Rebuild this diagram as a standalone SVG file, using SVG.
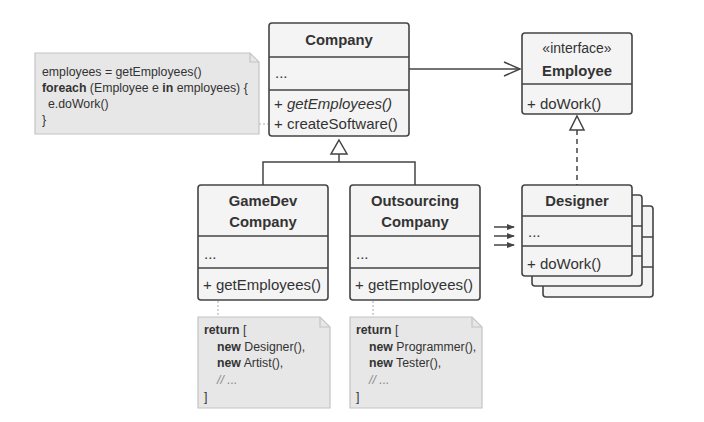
<svg xmlns="http://www.w3.org/2000/svg" width="704" height="422" viewBox="0 0 704 422">
<style>
text{font-family:"Liberation Sans",Arial,sans-serif;fill:#333}
.box{fill:#f4f4f4;stroke:#444;stroke-width:1.6}
.sep{stroke:#444;stroke-width:1.6;fill:none}
.t{font-size:14.8px;font-weight:bold;text-anchor:middle}
.m{font-size:15px}
.st{font-size:14px;text-anchor:middle}
.note{fill:#e7e7e7;stroke:#c4c4c4;stroke-width:1.2}
.n{font-size:12.3px}
.b{font-weight:bold}
.c{font-style:italic;fill:#888}
.line{stroke:#444;stroke-width:1.5;fill:none}
.dot{stroke:#aaa;stroke-width:1;fill:none;stroke-dasharray:2,2}
</style>
<defs>
<marker id="sm" markerWidth="8" markerHeight="6" refX="7" refY="3" orient="auto" markerUnits="userSpaceOnUse">
<path d="M0,0 L8,3 L0,6 z" fill="#444"/>
</marker>
</defs>

<g id="connectors">
<line class="line" x1="409" y1="69" x2="520" y2="69"/>
<polyline class="line" points="504,62 520,69 504,76"/>
<polygon points="577,116 584,130 570,130" fill="#fff" stroke="#444" stroke-width="1.5"/>
<line class="line" x1="577" y1="130" x2="577" y2="185" stroke-dasharray="5,4"/>
<polygon points="339,140 347,154 331,154" fill="#fff" stroke="#444" stroke-width="1.5"/>
<polyline class="line" points="339,154 339,162"/>
<polyline class="line" points="263,185 263,162 415,162 415,185"/>
<line class="line" x1="494" y1="227" x2="514" y2="227" stroke-width="1.3" marker-end="url(#sm)"/>
<line class="line" x1="494" y1="236" x2="514" y2="236" stroke-width="1.3" marker-end="url(#sm)"/>
<line class="line" x1="494" y1="245" x2="514" y2="245" stroke-width="1.3" marker-end="url(#sm)"/>
<line class="dot" x1="259" y1="124" x2="268" y2="124"/>
<line class="dot" x1="218" y1="301" x2="218" y2="317"/>
<line class="dot" x1="373" y1="301" x2="373" y2="317"/>
</g>

<g id="note-main">
<path class="note" d="M35,53 H250 L259,62 V134 H35 Z"/>
<path d="M250,53 V62 H259" fill="none" stroke="#c4c4c4" stroke-width="1.2"/>
<text class="n" x="42" y="76">employees = getEmployees()</text>
<text class="n" x="42" y="92"><tspan class="b">foreach</tspan> (Employee e <tspan class="b">in</tspan> employees) {</text>
<text class="n" x="48" y="108">e.doWork()</text>
<text class="n" x="42" y="124">}</text>
</g>

<g id="company">
<rect class="box" x="269" y="23" width="140" height="113" rx="3"/>
<line class="sep" x1="269" y1="57" x2="409" y2="57"/>
<line class="sep" x1="269" y1="90" x2="409" y2="90"/>
<text class="t" x="339" y="45">Company</text>
<text class="m" x="275" y="78">...</text>
<text class="m" x="274" y="109">+ <tspan font-style="italic">getEmployees()</tspan></text>
<text class="m" x="274" y="129">+ createSoftware()</text>
</g>

<g id="employee">
<rect class="box" x="522" y="33" width="110" height="81" rx="3"/>
<line class="sep" x1="522" y1="84" x2="632" y2="84"/>
<text class="st" x="577" y="53">«interface»</text>
<text class="t" x="577" y="76">Employee</text>
<text class="m" x="527" y="109">+ doWork()</text>
</g>

<g id="gamedev">
<rect class="box" x="198" y="185" width="130" height="115" rx="3"/>
<line class="sep" x1="198" y1="236" x2="328" y2="236"/>
<line class="sep" x1="198" y1="268" x2="328" y2="268"/>
<text class="t" x="263" y="206">GameDev</text>
<text class="t" x="263" y="227">Company</text>
<text class="m" x="204" y="259">...</text>
<text class="m" x="203" y="290">+ getEmployees()</text>
</g>

<g id="outsourcing">
<rect class="box" x="350" y="185" width="130" height="115" rx="3"/>
<line class="sep" x1="350" y1="236" x2="480" y2="236"/>
<line class="sep" x1="350" y1="268" x2="480" y2="268"/>
<text class="t" x="415" y="206">Outsourcing</text>
<text class="t" x="415" y="227">Company</text>
<text class="m" x="356" y="259">...</text>
<text class="m" x="355" y="290">+ getEmployees()</text>
</g>

<g id="designer">
<rect class="box" x="543" y="206" width="110" height="91" rx="3"/>
<line class="sep" x1="543" y1="237" x2="653" y2="237"/>
<line class="sep" x1="543" y1="267" x2="653" y2="267"/>
<rect class="box" x="532" y="195" width="110" height="91" rx="3"/>
<line class="sep" x1="532" y1="226" x2="642" y2="226"/>
<line class="sep" x1="532" y1="256" x2="642" y2="256"/>
<rect class="box" x="522" y="185" width="110" height="91" rx="3"/>
<line class="sep" x1="522" y1="216" x2="632" y2="216"/>
<line class="sep" x1="522" y1="246" x2="632" y2="246"/>
<text class="t" x="577" y="206">Designer</text>
<text class="m" x="528" y="237">...</text>
<text class="m" x="527" y="269">+ doWork()</text>
</g>

<g id="note-gamedev">
<path class="note" d="M198,317 H320 L330,327 V408 H198 Z"/>
<path d="M320,317 V327 H330" fill="none" stroke="#c4c4c4" stroke-width="1.2"/>
<text class="n" x="204" y="334"><tspan class="b">return</tspan> [</text>
<text class="n" x="217" y="351"><tspan class="b">new</tspan> Designer(),</text>
<text class="n" x="217" y="367"><tspan class="b">new</tspan> Artist(),</text>
<text class="n c" x="217" y="384">// ...</text>
<text class="n" x="204" y="401">]</text>
</g>

<g id="note-outsourcing">
<path class="note" d="M350,317 H472 L482,327 V408 H350 Z"/>
<path d="M472,317 V327 H482" fill="none" stroke="#c4c4c4" stroke-width="1.2"/>
<text class="n" x="356" y="334"><tspan class="b">return</tspan> [</text>
<text class="n" x="369" y="351"><tspan class="b">new</tspan> Programmer(),</text>
<text class="n" x="369" y="367"><tspan class="b">new</tspan> Tester(),</text>
<text class="n c" x="369" y="384">// ...</text>
<text class="n" x="356" y="401">]</text>
</g>
</svg>
